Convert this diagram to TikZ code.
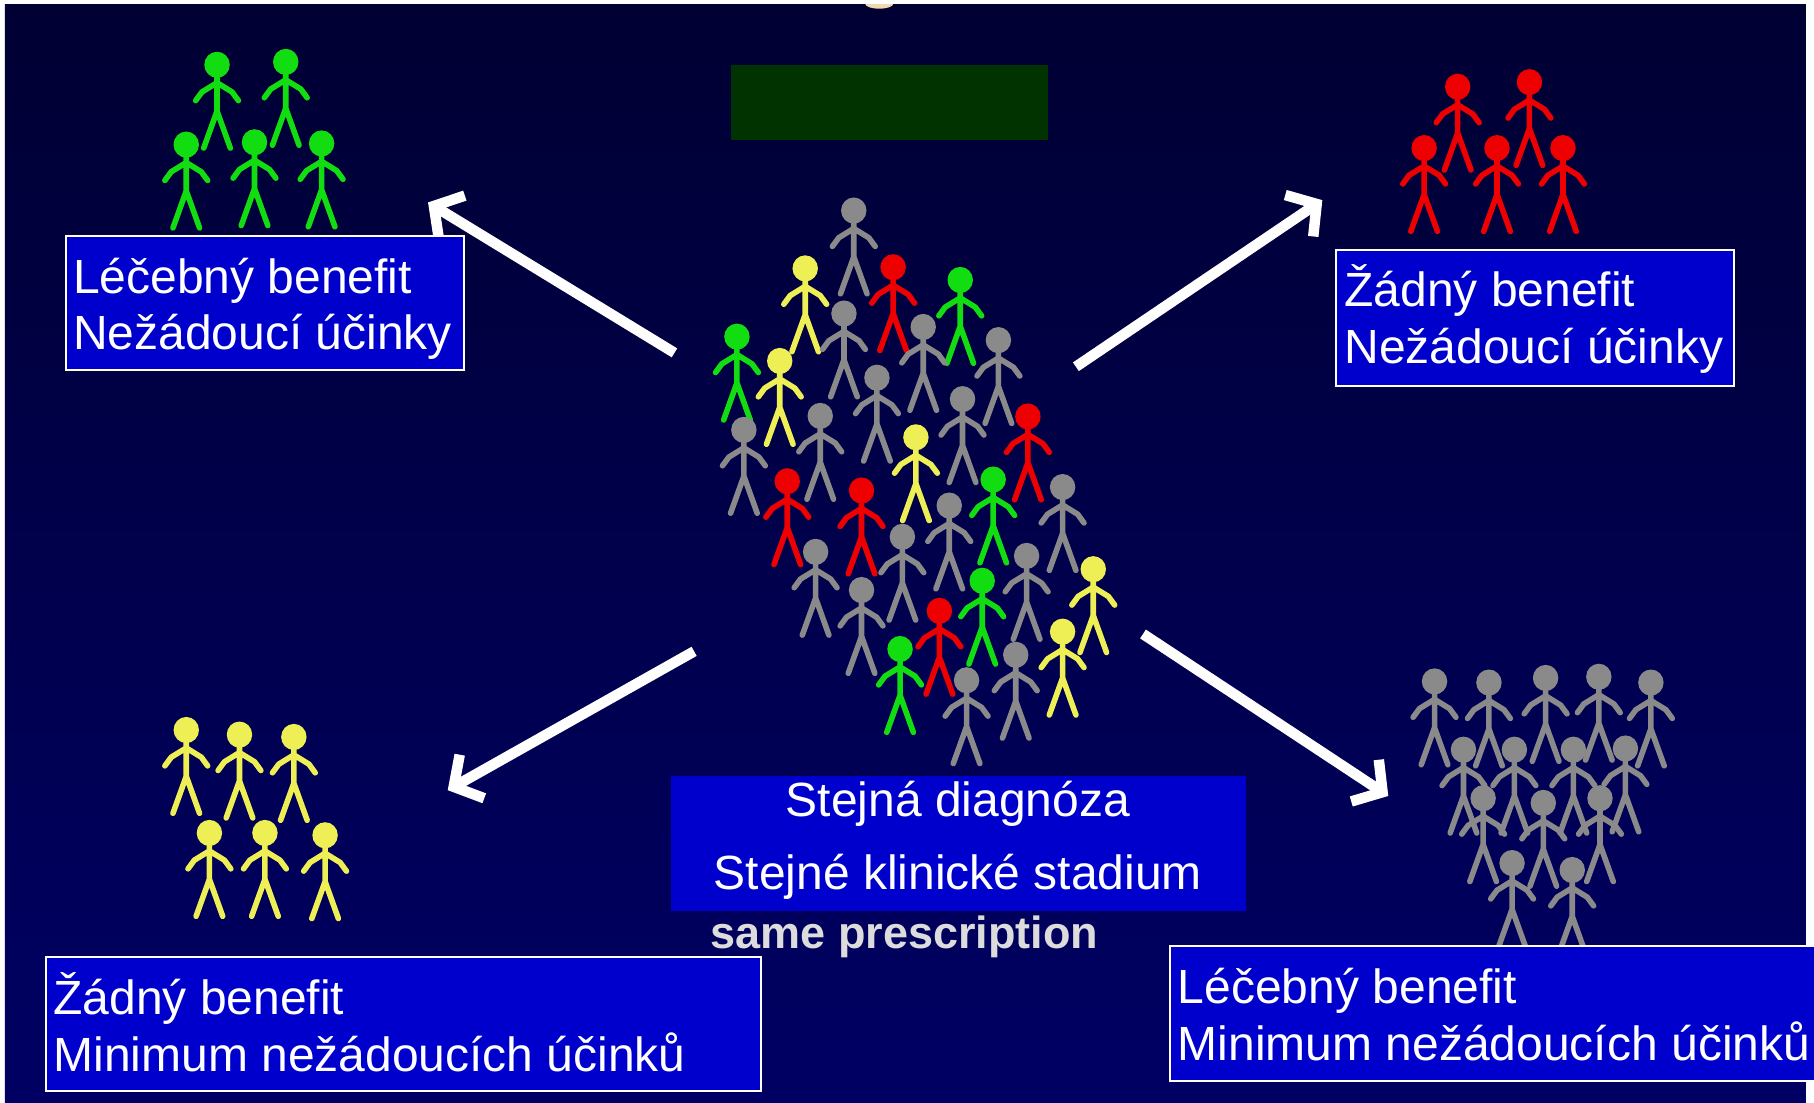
\documentclass[tikz,border=0pt]{standalone}
\usepackage{fontspec}
\setmainfont{Liberation Sans}
\usetikzlibrary{arrows.meta,fit}

\definecolor{navytop}{HTML}{000033}
\definecolor{navybot}{HTML}{000064}
\definecolor{boxblue}{HTML}{0000CC}
\definecolor{barGreen}{HTML}{003300}
\definecolor{manGray}{HTML}{8A8A8A}
\definecolor{manGreen}{HTML}{11DD11}
\definecolor{manRed}{HTML}{EE0000}
\definecolor{manYellow}{HTML}{EEEE55}
\definecolor{rxGray}{HTML}{DCDCDC}
\definecolor{lampTone}{HTML}{F0D8B0}

\tikzset{
  % stick figure, origin at the centre of the head
  man/.pic={
    \draw[line width=5.6pt, line cap=round, line join=round]
      (0,8) -- (0,40)
      (-11.5,72) -- (0,40) -- (11.5,72)
      (-18.5,31) -- (-13,23.5) -- (0,15.5) -- (13,23.5) -- (18.5,31);
    \fill (0,0) ellipse [x radius=11, y radius=11.3];
  },
  grayman/.style={color=manGray},
  greenman/.style={color=manGreen},
  redman/.style={color=manRed},
  yellowman/.style={color=manYellow},
  infobox/.style={draw=white, line width=2pt, fill=boxblue, inner sep=0pt},
  centerbox/.style={fill=boxblue, inner sep=0pt},
  boxtext/.style={text=white, inner sep=0pt, anchor=base west,
    font=\fontsize{48pt}{56pt}\selectfont},
  centertext/.style={text=white, inner sep=0pt, anchor=base,
    font=\fontsize{48pt}{56pt}\selectfont},
  rxtext/.style={text=rxGray, inner sep=0pt, anchor=base,
    font=\fontsize{45pt}{54pt}\selectfont\bfseries},
  bigarrow/.style={draw=white, line width=10.5pt,
    -{Straight Barb[length=21pt, width=50pt]}},
}

\begin{document}
\begin{tikzpicture}[x=1.156888pt, y=-1.156888pt]
\useasboundingbox (0,0) rectangle (1568,953);
\fill[white] (0,0) rectangle (1568,953);
\shade[top color=navytop, bottom color=navybot] (4.3,3.5) rectangle (1561,953);

% small lamp at the upper edge
\begin{scope}
  \clip (4.3,3.5) rectangle (1561,953);
  \fill[lampTone] (760,3.5) ellipse [x radius=12, y radius=4];
\end{scope}

% dark green bar
\node[fill=barGreen, inner sep=0pt, fit={(632,56) (906,121)}] (bar) {};

% group with benefit and side effects
\foreach \x/\y in {187.6/56, 247/53.5, 161/125, 220/123, 278/124}
  \pic[greenman] at (\x,\y) {man};

% group with no benefit and side effects
\foreach \x/\y in {1260/75, 1322/71, 1231/128, 1294/128, 1351/128}
  \pic[redman] at (\x,\y) {man};

% group with no benefit and few side effects
\foreach \x/\y in {161/631, 207/635, 254/637, 181/720, 229/720, 281/722}
  \pic[yellowman] at (\x,\y) {man};

% group with benefit and few side effects
\foreach \x/\y in {1240/589, 1287/590, 1336/586, 1382/585, 1427/590,
                   1265/648, 1309/648, 1360/648, 1405/647,
                   1282/690, 1334/694, 1383/690,
                   1307/746, 1359/752}
  \pic[grayman] at (\x,\y) {man};

% mixed crowd of patients
\foreach \c/\x/\y in {
    grayman/738/182, redman/772/231, yellowman/696/232, greenman/830/242,
    grayman/729.5/271, grayman/798/282.6, greenman/637/291, grayman/863/294,
    yellowman/674/312, grayman/758/326.5, grayman/832/345, grayman/709/359.5,
    redman/888.5/360, grayman/643/371.6, yellowman/791.7/378,
    greenman/858.5/414.5, redman/680.5/416, grayman/918.5/421,
    redman/744.7/424, grayman/820.5/437, grayman/780/464, grayman/705/477,
    grayman/887.4/480.5, yellowman/945/492, greenman/849/502,
    grayman/744.7/510, redman/812/528, yellowman/918.5/546,
    greenman/778/561, grayman/878/566, grayman/835.5/588}
  \pic[\c] at (\x,\y) {man};

% arrows from the crowd to the four outcomes
\coordinate (aTLs) at (583,305);  \coordinate (aTLe) at (370,175);
\coordinate (aTRs) at (930,317);  \coordinate (aTRe) at (1143,173);
\coordinate (aBLs) at (600,563);  \coordinate (aBLe) at (387,683);
\coordinate (aBRs) at (988,548);  \coordinate (aBRe) at (1200,688);
\draw[bigarrow] (aTLs) -- (aTLe);
\draw[bigarrow] (aTRs) -- (aTRe);
\draw[bigarrow] (aBLs) -- (aBLe);
\draw[bigarrow] (aBRs) -- (aBRe);

% label boxes
\node[infobox, fit={(57,204) (401,320)}] (boxTL) {};
\node[infobox, fit={(1155,216.5) (1499,333.5)}] (boxTR) {};
\node[infobox, fit={(40,827) (658,943)}] (boxBL) {};
\node[infobox, fit={(1011,818) (1590,934.5)}] (boxBR) {};
\node[centerbox, fit={(580,671) (1077,787.5)}] (boxC) {};

\node[boxtext] (tl1) at (63,254) {Léčebný benefit};
\node[boxtext] (tl2) at (63,302.5) {Nežádoucí účinky};
\node[boxtext] (tr1) at (1162,265) {Žádný benefit};
\node[boxtext] (tr2) at (1162,314.6) {Nežádoucí účinky};
\node[boxtext] (bl1) at (46,877) {Žádný benefit};
\node[boxtext] (bl2) at (46,926) {Minimum nežádoucích účinků};
\node[boxtext] (br1) at (1018,867) {Léčebný benefit};
\node[boxtext] (br2) at (1018,917) {Minimum nežádoucích účinků};
\node[centertext] (c1) at (828,706) {Stejná diagnóza};
\node[centertext] (c2) at (828,769) {Stejné klinické stadium};
\node[rxtext] (rx) at (782,819.5) {same prescription};
\end{tikzpicture}
\end{document}
